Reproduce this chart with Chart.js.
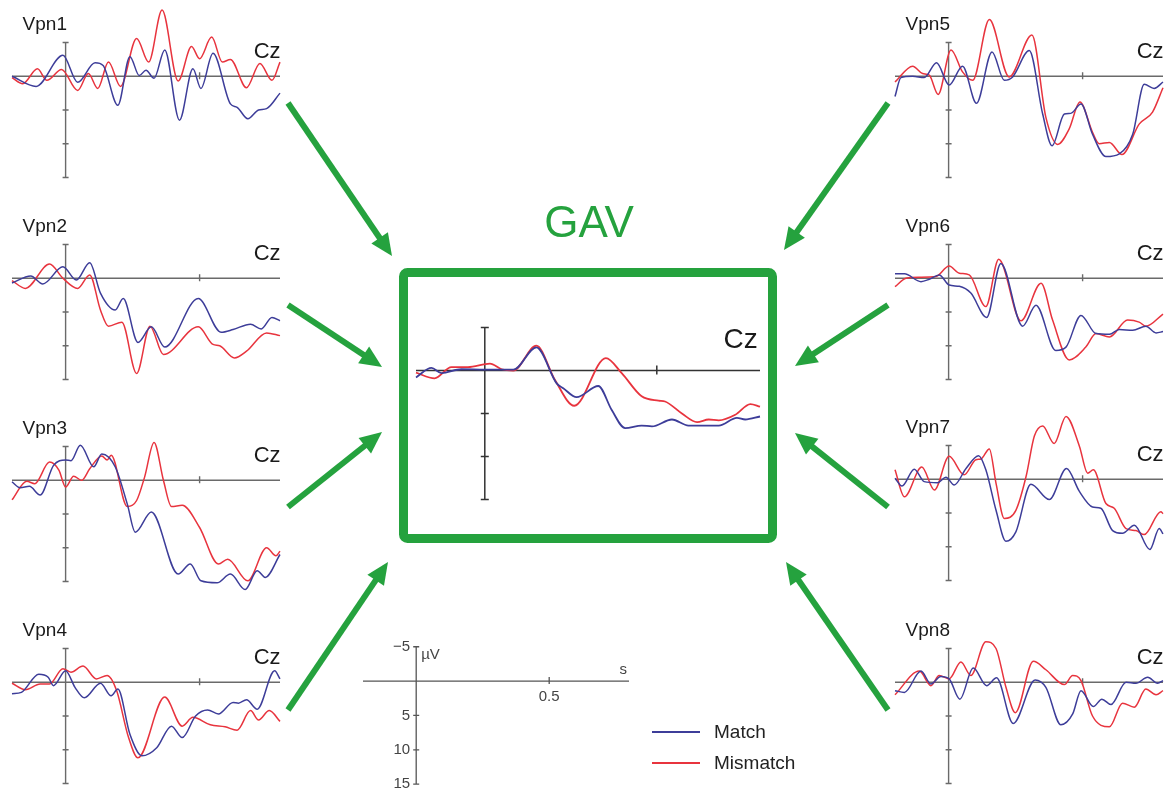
<!DOCTYPE html>
<html>
<head>
<meta charset="utf-8">
<script src="https://cdn.jsdelivr.net/npm/chart.js@4.4.1/dist/chart.umd.min.js"></script>
<style>
  body { margin: 0; background: #fff; }
  #page { position: relative; width: 1166px; height: 789px; overflow: hidden; font-family: Arial, "Liberation Sans", sans-serif; }
  canvas { position: absolute; }
  .txt { position: absolute; white-space: nowrap; line-height: 1; }
  .key { position: absolute; height: 2px; width: 48px; }
</style>
</head>
<body>
<div id="page">
  <canvas id="frame" width="1166" height="789" style="left:0;top:0"></canvas>
  <canvas id="vpn1"></canvas>
  <canvas id="vpn2"></canvas>
  <canvas id="vpn3"></canvas>
  <canvas id="vpn4"></canvas>
  <canvas id="vpn5"></canvas>
  <canvas id="vpn6"></canvas>
  <canvas id="vpn7"></canvas>
  <canvas id="vpn8"></canvas>
  <canvas id="gav"></canvas>
  <canvas id="scalebar"></canvas>
  <div class="txt" style="left:489px;top:200px;width:200px;text-align:center;font-size:44px;color:#25a23e">GAV</div>
  <div class="key" style="left:652px;top:731px;background:#3d3d99"></div>
  <div class="key" style="left:652px;top:762px;background:#e8343e"></div>
  <div class="txt" style="left:714px;top:722px;font-size:19px;color:#222">Match</div>
  <div class="txt" style="left:714px;top:753px;font-size:19px;color:#222">Mismatch</div>
</div>
<script>
// Zeit in ms, Amplitude in µV (negativ nach oben, wie beim EEG üblich)
const vpn1Match = [[-200,0],[-110,1.5],[-10,-3.1],[45,0.9],[110,-2.0],[140,-1.6],[195,4.3],[240,-2.9],[275,-0.1],[300,-0.9],[330,0.3],[370,-3.9],[425,6.5],[475,-1.1],[505,1.8],[550,-3.4],[615,4.1],[640,4.6],[680,6.3],[720,5.0],[750,4.8],[800,2.5]];
const vpn1Mismatch = [[-200,0.2],[-160,1.1],[-105,-1.1],[-70,0.6],[-15,-1.0],[45,2.1],[85,-0.4],[120,1.8],[160,-2.1],[205,1.5],[265,-5.6],[310,-2.1],[360,-9.8],[420,0.7],[470,-4.4],[500,-2.6],[545,-5.8],[585,-2.1],[615,-2.5],[675,1.7],[725,-1.9],[770,0.6],[800,-2.1]];

const vpn2Match = [[-200,0.7],[-130,-0.35],[-85,0.85],[-10,-1.7],[40,0.25],[90,-2.3],[130,2.2],[185,4.7],[215,3.0],[270,9.5],[320,7.2],[370,10.2],[495,3.0],[580,8.0],[625,7.6],[690,6.8],[730,7.5],[770,5.8],[800,6.3]];
const vpn2Mismatch = [[-200,0.35],[-150,1.5],[-60,-2.1],[-10,0],[45,1.5],[90,-0.5],[130,4.7],[160,7.1],[210,6.5],[265,14.1],[315,7.1],[365,11.3],[495,7.2],[550,9.8],[575,10.0],[630,11.8],[675,10.8],[750,8.1],[800,8.5]];

const vpn3Match = [[-200,0.25],[-170,1.1],[-135,0.9],[-95,2.2],[-45,-2.2],[0,-3.0],[20,-2.9],[55,-5.2],[105,-2.0],[135,-3.9],[185,-2.0],[230,3.5],[260,7.7],[320,4.7],[420,13.9],[465,12.4],[505,14.9],[565,15.2],[615,13.9],[670,16.2],[715,13.4],[745,14.4],[800,11.0]];
const vpn3Mismatch = [[-200,2.9],[-145,0.15],[-115,0.5],[-60,-2.7],[-25,-1.5],[0,1.0],[30,-0.6],[60,0],[90,-1.7],[135,-3.6],[155,-3.0],[170,-3.7],[230,3.9],[265,3.0],[295,-0.5],[330,-5.6],[365,0],[395,3.9],[435,3.7],[500,7.0],[570,12.4],[605,11.7],[680,14.9],[750,10.0],[785,11.2],[800,10.5]];

const vpn4Match = [[-200,1.7],[-165,1.5],[-100,-1.2],[-65,-0.75],[-45,0.5],[0,-1.7],[35,0.75],[70,2.3],[130,0.15],[170,2.0],[195,1.0],[240,7.7],[285,10.9],[340,9.7],[395,6.5],[435,8.2],[485,5.0],[530,4.1],[570,4.7],[625,3.0],[645,3.1],[675,2.6],[715,4.0],[780,-1.7],[800,-0.5]];
const vpn4Mismatch = [[-200,0.15],[-150,1.1],[-95,0.25],[-60,0.25],[-10,-2.0],[20,-1.5],[65,-2.4],[115,-0.5],[155,-1.0],[190,1.2],[235,8.2],[270,11.2],[370,2.2],[435,6.5],[475,5.2],[540,6.3],[595,6.6],[640,7.1],[690,4.2],[720,5.6],[760,4.2],[800,5.8]];

const vpn5Match = [[-200,3.0],[-178,0.2],[-134,0],[-91,0.2],[-45,-2.0],[2,1.3],[52,-1.5],[104,4.0],[162,-3.6],[208,0.6],[239,0.1],[301,-3.8],[351,5.6],[386,10.3],[432,5.6],[456,5.5],[494,4.1],[537,8.6],[587,11.9],[637,11.5],[687,8.6],[730,1.2],[767,1.8],[800,0.85]];
const vpn5Mismatch = [[-200,0.85],[-134,-1.5],[-97,-0.4],[-72,-0.15],[-39,2.7],[9,-3.9],[52,-0.65],[90,0.6],[152,-8.4],[226,0.1],[311,-6.1],[363,6.1],[407,10.1],[450,7.8],[490,3.8],[537,8.3],[562,10.0],[600,9.8],[647,11.6],[711,7.1],[761,5.3],[800,1.7]];

const vpn6Match = [[-200,-0.65],[-165,-0.65],[-103,0.5],[-72,0.15],[-35,-0.5],[2,1.0],[40,1.2],[83,2.2],[142,5.8],[195,-2.2],[276,7.1],[326,4.0],[400,10.7],[438,10.2],[494,5.5],[550,8.2],[600,8.3],[637,7.6],[687,7.7],[736,7.1],[774,8.1],[800,7.9]];
const vpn6Mismatch = [[-200,1.25],[-159,0],[-109,-0.15],[-47,-0.25],[2,-1.8],[40,-0.75],[77,-0.5],[139,4.2],[187,-2.8],[270,6.3],[345,0.75],[388,6.2],[450,12.1],[512,10.2],[550,8.2],[600,8.7],[668,6.2],[711,6.5],[736,7.1],[800,5.3]];

const vpn7Match = [[-200,-0.15],[-174,1.0],[-128,-1.5],[-91,0.35],[-41,0.5],[-10,-0.3],[21,0.85],[65,-1.6],[112,-3.5],[139,-1.4],[177,4.6],[214,9.2],[251,7.8],[307,0.75],[376,3.0],[440,-1.6],[488,1.8],[537,4.1],[568,4.3],[612,7.6],[649,8.0],[693,6.8],[751,10.4],[786,7.3],[800,8.1]];
const vpn7Mismatch = [[-200,-1.4],[-165,2.6],[-100,-1.8],[-53,1.6],[2,-3.4],[58,-0.65],[102,-2.9],[121,-3.0],[152,-4.5],[177,0.6],[208,5.8],[251,4.6],[289,-0.4],[320,-6.4],[351,-7.9],[394,-5.3],[438,-9.3],[488,-4.9],[519,-0.9],[540,-1.4],[587,3.6],[618,4.3],[662,7.3],[699,7.6],[730,8.2],[792,4.8],[800,5.1]];

const vpn8Match = [[-200,1.25],[-165,1.5],[-103,-1.65],[-66,0.25],[-29,-0.85],[2,-0.5],[42,2.5],[92,-2.1],[142,0.5],[179,-0.65],[241,6.1],[323,-0.35],[363,0.75],[419,6.3],[463,4.7],[494,1.25],[540,3.6],[572,2.5],[606,3.3],[662,0],[699,0.15],[743,-0.75],[780,0.15],[800,-0.25]];
const vpn8Mismatch = [[-200,1.85],[-109,-1.65],[-66,0.5],[-35,-1.0],[2,-0.5],[46,-3.0],[83,-1.0],[139,-6.0],[177,-5.0],[214,0.75],[249,4.5],[316,-3.1],[363,-1.85],[432,0.35],[463,-1.0],[494,-0.25],[537,5.0],[600,6.6],[649,3.1],[693,3.7],[736,1.0],[774,1.85],[800,1.25]];

const gavMatch = [[-200,0.8],[-155,-0.3],[-126,0.3],[-68,-0.15],[0,-0.1],[49,-0.1],[83,-0.1],[150,-2.7],[209,1.5],[228,2.05],[267,3.1],[330,1.8],[369,4.6],[408,6.7],[456,6.4],[486,6.5],[544,5.7],[592,6.4],[680,6.4],[733,5.5],[757,5.7],[800,5.35]];
const gavMismatch = [[-200,0.25],[-146,0.9],[-97,-0.4],[-49,-0.4],[15,-0.8],[49,-0.15],[83,0],[150,-2.9],[204,1.1],[260,4.1],[352,-1.45],[398,0.3],[456,3.0],[505,3.5],[524,3.6],[573,5.0],[617,6.0],[651,5.7],[680,5.8],[728,5.15],[772,3.9],[800,4.2]];

// Achsen: Bereich und Markierungen
const timeRange = [-200, 800];
const ampTicks = [-5, 5, 10, 15];
const ampTickLabels = ["\u22125", "5", "10", "15"];
const timeTick = 500;
const timeTickLabel = "0.5";

const MATCH_COLOR = "#3d3d99";
const MISMATCH_COLOR = "#e8343e";
const GREEN = "#25a23e";

// Zeichnet die Achsenkreuze und Beschriftungen über die Skalen des Charts
const erpAxes = {
  id: "erpAxes",
  beforeDatasetsDraw(chart, args, o) {
    const { ctx } = chart;
    const { x, y } = chart.scales;
    const x0 = x.getPixelForValue(0);
    const y0 = y.getPixelForValue(0);
    ctx.save();
    ctx.strokeStyle = o.color;
    ctx.lineWidth = o.lineWidth;
    ctx.beginPath();
    ctx.moveTo(x.getPixelForValue(timeRange[0]), y0);
    ctx.lineTo(x.getPixelForValue(timeRange[1]), y0);
    ctx.moveTo(x0, y.getPixelForValue(ampTicks[0]));
    ctx.lineTo(x0, y.getPixelForValue(ampTicks[ampTicks.length - 1]));
    ampTicks.forEach((v) => {
      const py = y.getPixelForValue(v);
      ctx.moveTo(x0 - o.tick, py);
      ctx.lineTo(x0 + o.tick, py);
    });
    const pt = x.getPixelForValue(timeTick);
    ctx.moveTo(pt, y0 - o.tick - 1);
    ctx.lineTo(pt, y0 + o.tick);
    ctx.stroke();

    ctx.fillStyle = "#1a1a1a";
    ctx.textBaseline = "alphabetic";
    if (o.title) {
      ctx.font = o.title.size + "px Arial, 'Liberation Sans', sans-serif";
      ctx.textAlign = "left";
      ctx.fillText(o.title.text, x0 + o.title.dx, y0 + o.title.dy);
    }
    if (o.cz) {
      ctx.font = o.cz.size + "px Arial, 'Liberation Sans', sans-serif";
      ctx.textAlign = "right";
      ctx.fillText("Cz", x0 + o.cz.dx, y0 + o.cz.dy);
    }
    if (o.scaleBar) {
      ctx.fillStyle = "#444";
      ctx.font = "15px Arial, 'Liberation Sans', sans-serif";
      ctx.textAlign = "right";
      ctx.textBaseline = "middle";
      ampTicks.forEach((v, i) => {
        ctx.fillText(ampTickLabels[i], x0 - 6, y.getPixelForValue(v));
      });
      ctx.textAlign = "center";
      ctx.textBaseline = "top";
      ctx.fillText(timeTickLabel, pt, y0 + 8);
      ctx.textAlign = "left";
      ctx.textBaseline = "alphabetic";
      ctx.fillText("\u00b5V", x0 + 5, y.getPixelForValue(ampTicks[0]) + 12);
      ctx.textAlign = "right";
      ctx.fillText("s", x.getPixelForValue(timeRange[1]) - 2, y0 - 7);
    }
    ctx.restore();
  },
};

function toPoints(arr) {
  return arr.map(([t, v]) => ({ x: t, y: v }));
}

function erpChart(id, box, match, mismatch, axesOpts) {
  const pad = 6;
  const canvas = document.getElementById(id);
  const w = (timeRange[1] - timeRange[0]) * box.pxMs;
  const h = (box.yMax - box.yMin) * box.pxUv;
  canvas.width = Math.round(w + 2 * pad);
  canvas.height = Math.round(h + 2 * pad);
  canvas.style.left = box.axisX + timeRange[0] * box.pxMs - pad + "px";
  canvas.style.top = box.zeroY + box.yMin * box.pxUv - pad + "px";

  const datasets = [];
  if (match) {
    datasets.push({ label: "Match", data: toPoints(match), borderColor: MATCH_COLOR, borderWidth: box.lw });
    datasets.push({ label: "Mismatch", data: toPoints(mismatch), borderColor: MISMATCH_COLOR, borderWidth: box.lw });
  }
  datasets.forEach((d) => {
    d.pointRadius = 0;
    d.fill = false;
    d.cubicInterpolationMode = "monotone";
    d.clip = false;
  });

  return new Chart(canvas.getContext("2d"), {
    type: "line",
    data: { datasets },
    options: {
      responsive: false,
      animation: false,
      events: [],
      layout: { padding: pad },
      scales: {
        x: { type: "linear", min: timeRange[0], max: timeRange[1], display: false },
        y: { type: "linear", min: box.yMin, max: box.yMax, reverse: true, display: false },
      },
      plugins: { legend: { display: false }, tooltip: { enabled: false }, erpAxes: axesOpts },
    },
    plugins: [erpAxes],
  });
}

const small = { pxMs: 0.268, pxUv: 6.75, yMin: -11, yMax: 17, lw: 1.5 };
const smallAxes = (n) => ({
  color: "#6a6a6a", lineWidth: 1.4, tick: 3,
  title: { text: "Vpn" + n, dx: -43, dy: -46, size: 19 },
  cz: { dx: 215, dy: -18, size: 22 },
});

erpChart("vpn1", { ...small, axisX: 66, zeroY: 76 }, vpn1Match, vpn1Mismatch, smallAxes(1));
erpChart("vpn2", { ...small, axisX: 66, zeroY: 278 }, vpn2Match, vpn2Mismatch, smallAxes(2));
erpChart("vpn3", { ...small, axisX: 66, zeroY: 480 }, vpn3Match, vpn3Mismatch, smallAxes(3));
erpChart("vpn4", { ...small, axisX: 66, zeroY: 682 }, vpn4Match, vpn4Mismatch, smallAxes(4));
erpChart("vpn5", { ...small, axisX: 949, zeroY: 76 }, vpn5Match, vpn5Mismatch, smallAxes(5));
erpChart("vpn6", { ...small, axisX: 949, zeroY: 278 }, vpn6Match, vpn6Mismatch, smallAxes(6));
erpChart("vpn7", { ...small, axisX: 949, zeroY: 479 }, vpn7Match, vpn7Mismatch, smallAxes(7));
erpChart("vpn8", { ...small, axisX: 949, zeroY: 682 }, vpn8Match, vpn8Mismatch, smallAxes(8));

erpChart("gav", { pxMs: 0.344, pxUv: 8.6, yMin: -6, yMax: 16, lw: 1.8, axisX: 485, zeroY: 371 },
  gavMatch, gavMismatch,
  { color: "#333", lineWidth: 1.5, tick: 4, cz: { dx: 273, dy: -23, size: 28 } });

erpChart("scalebar", { pxMs: 0.266, pxUv: 6.85, yMin: -7, yMax: 16, lw: 1, axisX: 416, zeroY: 681 },
  null, null,
  { color: "#555", lineWidth: 1.3, tick: 3, scaleBar: true });

// Rahmen um das GAV und Pfeile
const arrows = [
  [288, 103, 392, 256], [288, 305, 382, 367], [288, 507, 382, 432], [288, 710, 388, 562],
  [888, 103, 784, 250], [888, 305, 795, 366], [888, 507, 795, 433], [888, 710, 786, 562],
];
const fctx = document.getElementById("frame").getContext("2d");
fctx.strokeStyle = GREEN;
fctx.fillStyle = GREEN;
fctx.lineWidth = 9;
fctx.beginPath();
if (fctx.roundRect) fctx.roundRect(403.5, 272.5, 369, 266, 4);
else fctx.rect(403.5, 272.5, 369, 266);
fctx.stroke();

fctx.lineWidth = 6;
arrows.forEach(([x1, y1, x2, y2]) => {
  const a = Math.atan2(y2 - y1, x2 - x1);
  const ux = Math.cos(a), uy = Math.sin(a);
  const head = 22, half = 10;
  fctx.beginPath();
  fctx.moveTo(x1, y1);
  fctx.lineTo(x2 - ux * (head - 2), y2 - uy * (head - 2));
  fctx.stroke();
  fctx.beginPath();
  fctx.moveTo(x2, y2);
  fctx.lineTo(x2 - ux * head - uy * half, y2 - uy * head + ux * half);
  fctx.lineTo(x2 - ux * head + uy * half, y2 - uy * head - ux * half);
  fctx.closePath();
  fctx.fill();
});
</script>
</body>
</html>
